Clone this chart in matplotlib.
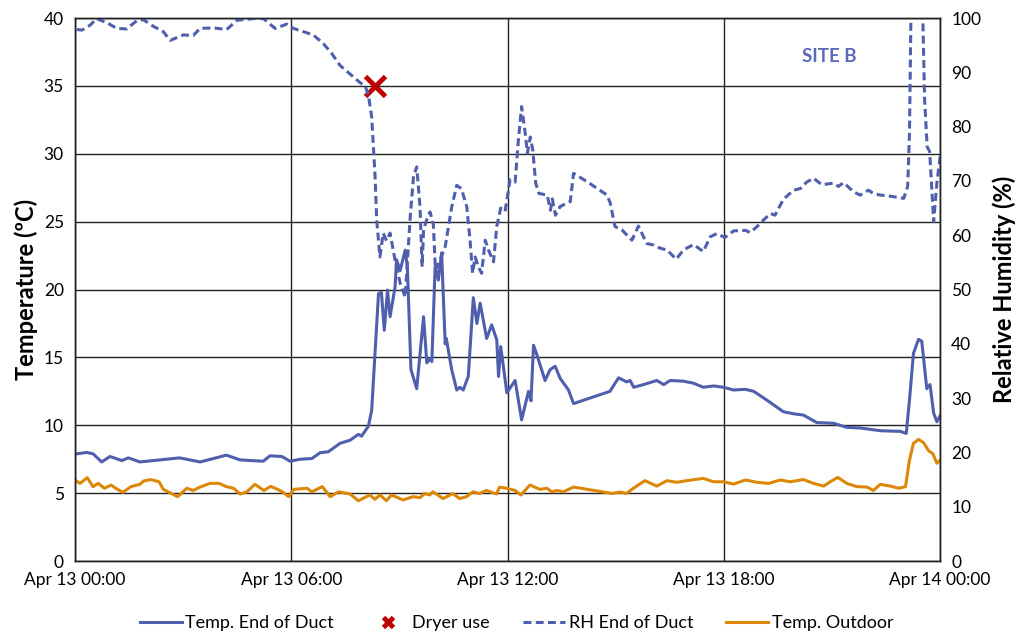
import matplotlib
matplotlib.use('Agg')
import matplotlib.pyplot as plt
import matplotlib.dates as mdates
import pandas as pd

plt.rcParams['font.family'] = ['Lato', 'DejaVu Sans']

start = pd.Timestamp('2023-04-13 00:00')

# Temp. End of Duct (deg C)
duct_t_hours = [0, 0.32, 0.5, 0.74, 0.97, 1.3, 1.48, 1.8, 2.54, 2.9, 3.47, 3.84, 4.2, 4.58,
                5.22, 5.41, 5.74, 5.97, 6.24, 6.57, 6.8, 7.03, 7.35, 7.63, 7.86, 7.95, 8.14,
                8.23, 8.42, 8.5, 8.58, 8.67, 8.74, 8.88, 8.92, 9.02, 9.16, 9.22, 9.32, 9.48,
                9.67, 9.76, 9.85, 9.9, 9.99, 10.08, 10.17, 10.27, 10.3, 10.45, 10.59, 10.68,
                10.77, 10.91, 11.05, 11.15, 11.24, 11.42, 11.56, 11.7, 11.75, 11.81, 11.98,
                12.21, 12.39, 12.58, 12.65, 12.72, 12.8, 13.04, 13.18, 13.32, 13.46, 13.69,
                13.83, 14.84, 15.08, 15.3, 15.4, 15.5, 15.77, 16.14, 16.33, 16.51, 16.88,
                17.16, 17.43, 17.71, 17.99, 18.27, 18.6, 18.83, 19.19, 19.65, 19.93, 20.21,
                20.58, 21.04, 21.41, 21.79, 22.34, 22.9, 23.06, 23.15, 23.26, 23.4, 23.49,
                23.63, 23.72, 23.82, 23.91, 24.0]
duct_t = [7.88, 8.0, 7.9, 7.3, 7.7, 7.4, 7.6, 7.3, 7.5, 7.6, 7.3, 7.55, 7.8, 7.45,
          7.35, 7.75, 7.7, 7.35, 7.5, 7.55, 7.98, 8.05, 8.67, 8.9, 9.33, 9.2, 9.94,
          11.1, 19.7, 19.8, 17.0, 19.96, 18.0, 20.2, 22.2, 21.4, 22.9, 21.7, 14.1, 12.7,
          18.0, 14.6, 14.9, 14.7, 21.7, 20.7, 22.7, 16.0, 16.4, 14.1, 12.6, 12.8,
          12.6, 13.6, 19.4, 17.5, 19.0, 16.4, 17.4, 16.3, 13.6, 15.8, 12.4,
          13.3, 10.4, 12.5, 11.8, 15.9, 15.3, 13.3, 14.1, 14.35, 13.45, 12.6,
          11.6, 12.5, 13.5, 13.2, 13.3, 12.8, 13.0, 13.3, 13.0, 13.3, 13.25,
          13.1, 12.8, 12.9, 12.8, 12.6, 12.65, 12.5, 11.86, 11.0, 10.85, 10.75,
          10.2, 10.15, 9.85, 9.8, 9.6, 9.55, 9.4, 11.86, 15.3, 16.33, 16.2,
          12.7, 13.0, 10.9, 10.26, 10.7]

# RH End of Duct (%)
duct_rh_hours = [0.05, 0.2, 0.42, 0.6, 0.9, 1.16, 1.43, 1.71, 1.9, 2.17, 2.45, 2.64, 3.01,
                 3.28, 3.47, 3.84, 4.21, 4.49, 4.95, 5.23, 5.55, 5.88, 6.06, 6.34, 6.61,
                 6.89, 7.12, 7.35, 7.54, 7.72, 7.91, 8.05, 8.14, 8.23, 8.32, 8.37, 8.46,
                 8.55, 8.64, 8.74, 8.88, 9.02, 9.16, 9.3, 9.39, 9.48, 9.57, 9.63, 9.67,
                 9.76, 9.85, 9.94, 10.0, 10.12, 10.27, 10.45, 10.59, 10.72, 10.87, 10.96,
                 11.03, 11.1, 11.19, 11.28, 11.38, 11.47, 11.61, 11.7, 11.81, 11.93, 12.07,
                 12.21, 12.3, 12.39, 12.49, 12.55, 12.63, 12.7, 12.78, 12.87, 13.1, 13.19,
                 13.24, 13.33, 13.46, 13.74, 13.83, 14.2, 14.76, 14.85, 14.98, 15.17, 15.45,
                 15.63, 15.86, 16.05, 16.24, 16.42, 16.68, 16.88, 17.16, 17.43, 17.62, 17.8,
                 18.03, 18.27, 18.6, 18.73, 18.92, 19.1, 19.29, 19.42, 19.65, 19.93, 20.12,
                 20.3, 20.49, 20.72, 21.04, 21.18, 21.32, 21.6, 21.78, 22.01, 22.15, 22.34,
                 22.52, 22.8, 22.99, 23.1, 23.15, 23.2, 23.5, 23.57, 23.64, 23.71, 23.82,
                 23.91, 24.0]
duct_rh = [97.9, 97.8, 98.7, 99.9, 99.1, 98.1, 98.0, 99.5, 99.7, 98.5, 97.5, 95.9, 96.9,
           96.8, 98.1, 98.2, 97.9, 99.6, 99.9, 99.9, 98.1, 98.9, 98.1, 97.5, 96.9,
           95.3, 93.5, 91.3, 90.2, 89.2, 88.1, 87.5, 85.8, 81.8, 71.5, 62.8, 56.0,
           60.4, 59.0, 60.4, 55.4, 51.2, 48.6, 63.4, 70.8, 72.6, 65.3, 54.2, 61.0,
           62.9, 64.3, 62.0, 53.6, 55.3, 57.9, 65.2, 69.2, 68.6, 65.2, 59.0,
           53.0, 56.0, 54.2, 53.0, 59.1, 57.3, 55.1, 61.6, 65.0, 64.4, 70.2,
           69.8, 77.5, 83.7, 78.8, 75.1, 78.1, 75.7, 69.6, 67.7, 67.4, 64.6,
           66.7, 63.7, 65.3, 66.2, 71.4, 69.9, 67.4, 65.9, 61.6, 61.0, 59.1,
           61.7, 58.5, 58.2, 57.6, 57.3, 55.6, 57.3, 58.3, 57.0, 59.7, 60.3,
           59.6, 60.8, 60.9, 60.5, 61.6, 62.8, 64.0, 63.7, 66.6, 68.3, 68.6,
           69.8, 70.5, 69.3, 69.6, 69.0, 69.7, 68.0, 67.4, 68.3, 67.7, 67.4,
           67.3, 67.0, 66.8, 69.0, 78.8, 106.0, 106.0, 84.9, 76.3, 75.4, 62.5,
           69.6, 74.5]

# Temp. Outdoor (deg C)
out_t_hours = [0, 0.14, 0.34, 0.5, 0.64, 0.82, 1.0, 1.13, 1.33, 1.55, 1.8, 1.9, 2.1, 2.33,
               2.45, 2.7, 2.85, 3.1, 3.28, 3.47, 3.74, 4.0, 4.2, 4.4, 4.58, 4.77, 4.99,
               5.24, 5.43, 5.62, 5.75, 5.93, 6.07, 6.44, 6.57, 6.86, 7.08, 7.31, 7.63,
               7.86, 8.18, 8.32, 8.46, 8.64, 8.78, 9.1, 9.38, 9.57, 9.7, 9.84, 9.93,
               10.21, 10.48, 10.67, 10.86, 11.04, 11.22, 11.41, 11.69, 11.78, 11.97,
               12.21, 12.37, 12.62, 12.9, 13.09, 13.23, 13.37, 13.55, 13.83, 14.89, 15.12,
               15.3, 15.49, 15.81, 16.14, 16.42, 16.7, 16.97, 17.43, 17.71, 17.99, 18.27,
               18.6, 18.92, 19.24, 19.57, 19.84, 20.21, 20.49, 20.77, 20.95, 21.16, 21.41,
               21.69, 21.97, 22.15, 22.34, 22.62, 22.85, 23.04, 23.15, 23.26, 23.4, 23.54,
               23.68, 23.8, 23.91, 24.0]
out_t = [5.97, 5.72, 6.14, 5.48, 5.72, 5.36, 5.6, 5.36, 5.06, 5.48, 5.65, 5.89, 6.0, 5.84,
         5.28, 4.94, 4.74, 5.36, 5.2, 5.45, 5.72, 5.72, 5.48, 5.36, 4.94, 5.1, 5.65,
         5.2, 5.5, 5.28, 5.1, 4.74, 5.28, 5.36, 5.1, 5.48, 4.74, 5.1, 4.94,
         4.44, 4.87, 4.55, 4.87, 4.44, 4.87, 4.5, 4.74, 4.67, 4.97, 4.87, 5.1,
         4.6, 4.97, 4.6, 4.74, 5.1, 4.97, 5.2, 4.94, 5.45, 5.36,
         5.2, 4.86, 5.6, 5.28, 5.36, 5.1, 5.2, 5.1, 5.45, 4.98, 5.08,
         4.98, 5.36, 5.92, 5.52, 5.92, 5.8, 5.92, 6.09, 5.84, 5.84, 5.67,
         5.97, 5.8, 5.72, 5.97, 5.84, 6.0, 5.72, 5.52, 5.84, 6.16, 5.72,
         5.48, 5.45, 5.2, 5.65, 5.52, 5.36, 5.48, 7.44, 8.67, 8.96, 8.72,
         8.13, 7.9, 7.2, 7.44]

# Dryer use marker (plotted on temperature axis)
dryer_hours = [8.32]
dryer_t = [35.0]

blue = '#4F5FAD'
orange = '#DD8708'
red = '#C00000'


def to_time(hours):
    return [start + pd.Timedelta(hours=h) for h in hours]


fig = plt.figure(figsize=(10.19, 6.35), dpi=100)
ax1 = fig.add_axes([0.0736, 0.1165, 0.849, 0.855])
ax2 = ax1.twinx()

l_duct, = ax1.plot(to_time(duct_t_hours), duct_t, color=blue, linewidth=2.2,
                   label='Temp. End of Duct')
l_out, = ax1.plot(to_time(out_t_hours), out_t, color=orange, linewidth=2.2,
                  label='Temp. Outdoor')
l_dry, = ax1.plot(to_time(dryer_hours), dryer_t, linestyle='none', marker='x',
                  markersize=14, markeredgewidth=3.5, color=red, label='Dryer use',
                  zorder=5)
l_rh, = ax2.plot(to_time(duct_rh_hours), duct_rh, color=blue, linewidth=2.2,
                 linestyle=(0, (2.6, 1.4)), label='RH End of Duct')

ax1.set_xlim(start, start + pd.Timedelta(hours=24))
ax1.set_ylim(0, 40)
ax2.set_ylim(0, 100)
ax1.set_yticks(range(0, 41, 5))
ax2.set_yticks(range(0, 101, 10))

ax1.xaxis.set_major_locator(mdates.HourLocator(byhour=[0, 6, 12, 18]))
ax1.xaxis.set_major_formatter(mdates.DateFormatter('%b %d %H:%M'))

ax1.grid(True, color='#222222', linewidth=1.0)
for ax in (ax1, ax2):
    ax.tick_params(length=0, labelsize=12.5, pad=8)
    for s in ax.spines.values():
        s.set_color('#222222')
        s.set_linewidth(1.0)
ax1.set_axisbelow(True)

ax1.set_ylabel('Temperature (ºC)', fontsize=17, fontweight='bold', labelpad=4)
ax2.set_ylabel('Relative Humidity (%)', fontsize=17, fontweight='bold', labelpad=8)

ax1.text(0.872, 0.93, 'SITE B', transform=ax1.transAxes, ha='center', va='center',
         fontsize=13.5, fontweight='bold', color='#5B6BB7')

fig.legend([l_duct, l_dry, l_rh, l_out],
           ['Temp. End of Duct', 'Dryer use', 'RH End of Duct', 'Temp. Outdoor'],
           loc='center', bbox_to_anchor=(0.507, 0.019), ncol=4, frameon=False,
           fontsize=13, handlelength=2.3, columnspacing=1.85, handletextpad=0.2,
           markerscale=0.55)

fig.savefig('out.png', dpi=100)
plt.close('all')
